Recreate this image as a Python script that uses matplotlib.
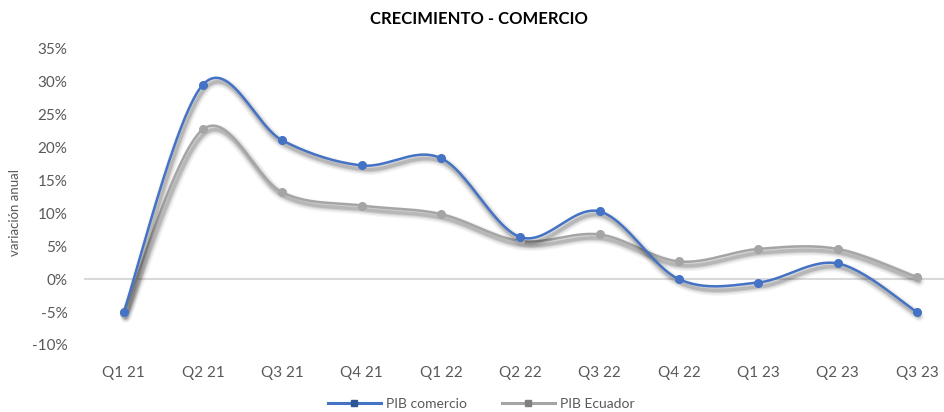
import matplotlib
matplotlib.use("Agg")
import matplotlib.pyplot as plt
import matplotlib.transforms as mtransforms
from matplotlib.lines import Line2D
import numpy as np

# datos
trimestres = ["Q1 21", "Q2 21", "Q3 21", "Q4 21", "Q1 22", "Q2 22",
              "Q3 22", "Q4 22", "Q1 23", "Q2 23", "Q3 23"]
pib_comercio = [-5.0, 29.6, 21.1, 17.3, 18.4, 6.4, 10.3, 0.0, -0.5, 2.4, -5.0]
pib_ecuador = [-5.2, 22.8, 13.2, 11.2, 9.9, 5.8, 6.8, 2.7, 4.6, 4.6, 0.3]

azul = "#4472C4"
gris = "#A5A5A5"
texto = "#595959"

plt.rcParams["font.family"] = ["Lato", "DejaVu Sans"]


def suavizar(y, n=30):
    # curva tipo Excel (bezier con tangentes catmull-rom)
    x = np.arange(len(y), dtype=float)
    y = np.asarray(y, dtype=float)
    px = np.concatenate([[x[0]], x, [x[-1]]])
    py = np.concatenate([[y[0]], y, [y[-1]]])
    t = np.linspace(0, 1, n)[:, None]
    xs, ys = [], []
    for i in range(1, len(x)):
        p0 = np.array([px[i], py[i]])
        p3 = np.array([px[i + 1], py[i + 1]])
        c1 = p0 + (np.array([px[i + 1], py[i + 1]]) - np.array([px[i - 1], py[i - 1]])) / 6
        c2 = p3 - (np.array([px[i + 2], py[i + 2]]) - np.array([px[i], py[i]])) / 6
        b = ((1 - t) ** 3) * p0 + 3 * ((1 - t) ** 2) * t * c1 + 3 * (1 - t) * t ** 2 * c2 + t ** 3 * p3
        xs.append(b[:, 0])
        ys.append(b[:, 1])
    return np.concatenate(xs), np.concatenate(ys)


fig = plt.figure(figsize=(9.44, 4.12), dpi=100)
ax = fig.add_axes([84 / 944, 67 / 412, 1 - 84 / 944, (345 - 49) / 412])

x = np.arange(len(trimestres))
for serie, color, z in [(pib_ecuador, gris, 3), (pib_comercio, azul, 4)]:
    sx, sy = suavizar(serie)
    # sombra difusa
    for w, a in [(8, 0.04), (6, 0.06), (4, 0.09), (2.5, 0.12)]:
        tr = mtransforms.offset_copy(ax.transData, fig=fig, x=2, y=-4, units="dots")
        ax.plot(sx, sy, color="#000000", lw=w, alpha=a, transform=tr,
                solid_capstyle="round", zorder=z - 1)
    ax.plot(sx, sy, color=color, lw=1.8, zorder=z)
    ax.plot(x, serie, linestyle="none", marker="o", ms=5.5, color=color,
            markeredgecolor=color, zorder=z + 0.5)

ax.axhline(0, color="#D9D9D9", lw=1.5, zorder=1)

ax.set_ylim(-10, 35)
ax.set_xlim(-0.5, 10.34)
ax.set_yticks(range(-10, 36, 5))
ax.set_yticklabels([f"{v}%" for v in range(-10, 36, 5)])
ax.set_xticks(x)
ax.set_xticklabels(trimestres)
ax.tick_params(axis="both", length=0, colors=texto, labelsize=11)
ax.tick_params(axis="x", pad=15)
ax.tick_params(axis="y", pad=12)
for s in ax.spines.values():
    s.set_visible(False)

fig.text(15 / 944, 1 - 213 / 412, "variación anual", rotation=90, ha="center",
         va="center", color=texto, fontsize=9.5)

fig.text(0.507, 0.955, "CRECIMIENTO - COMERCIO", ha="center", va="center",
         fontsize=12, color="#000000", fontweight="bold")

handles = [
    Line2D([], [], color=azul, lw=2.2, marker="s", ms=5, markerfacecolor="#2F5597",
           markeredgecolor="#2F5597"),
    Line2D([], [], color=gris, lw=2.2, marker="s", ms=5, markerfacecolor="#7F7F7F",
           markeredgecolor="#7F7F7F"),
]
fig.legend(handles, ["PIB comercio", "PIB Ecuador"], loc="center",
           bbox_to_anchor=(0.51, 8 / 412), ncol=2, frameon=False,
           fontsize=10, labelcolor=texto, handlelength=3.8, columnspacing=2.5,
           handletextpad=0.4)

fig.savefig("out.png", dpi=100)
